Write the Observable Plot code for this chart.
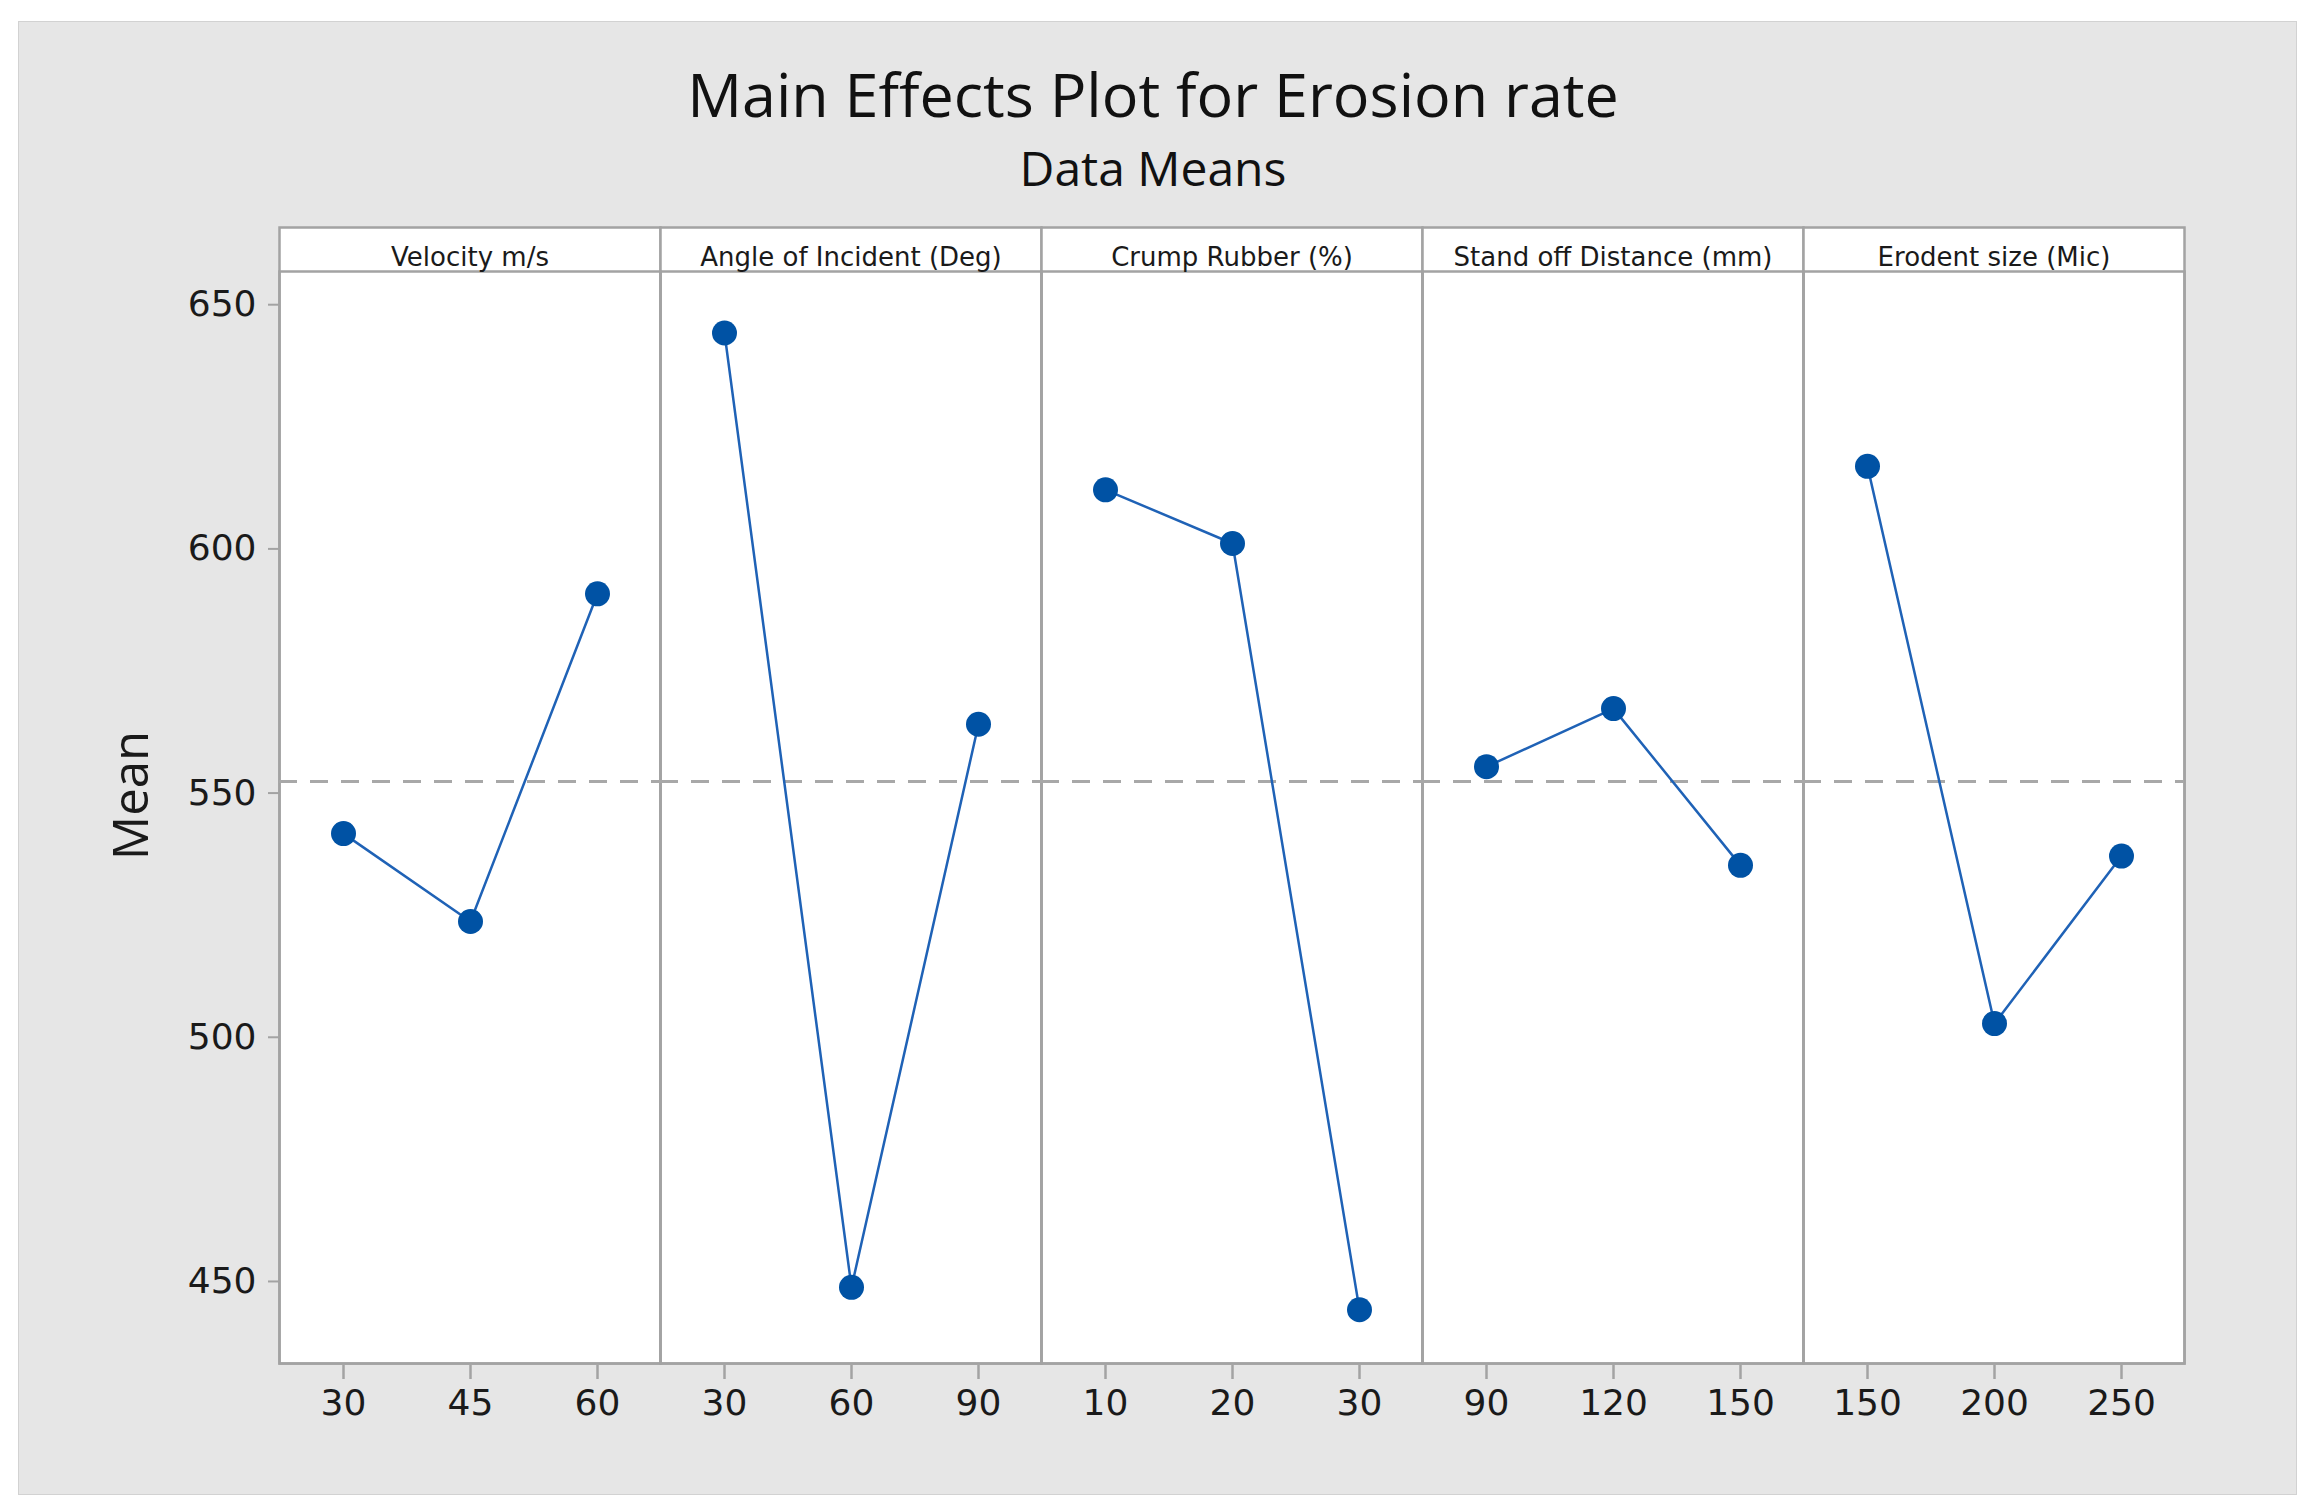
<!DOCTYPE html>
<html>
<head>
<meta charset="utf-8">
<script src="https://cdn.jsdelivr.net/npm/d3@7"></script>
<script src="https://cdn.jsdelivr.net/npm/@observablehq/plot@0.6"></script>
<style>
  html, body { margin: 0; padding: 0; background: #ffffff; width: 2312px; height: 1512px; overflow: hidden; }
  #bg { position: absolute; left: 18px; top: 21px; width: 2277px; height: 1472px; background: #e6e6e6; border: 1px solid #d2d2d2; }
  .title { position: absolute; left: 0; width: 2306px; text-align: center; font-family: "Open Sans", sans-serif; color: #111; line-height: 1; white-space: nowrap; }
  #t1 { top: 63px; font-size: 61px; }
  #t2 { top: 144px; font-size: 48px; }
  #chart { position: absolute; left: 0; top: 200px; }
</style>
</head>
<body>
<div id="bg"></div>
<div class="title" id="t1">Main Effects Plot for Erosion rate</div>
<div class="title" id="t2">Data Means</div>
<div id="chart"></div>
<script>
const factors = ["Velocity m/s", "Angle of Incident (Deg)", "Crump Rubber (%)", "Stand off Distance (mm)", "Erodent size (Mic)"];
const levels = [
  ["30", "45", "60"],
  ["30", "60", "90"],
  ["10", "20", "30"],
  ["90", "120", "150"],
  ["150", "200", "250"]
];
const means = [
  [541.7, 523.7, 590.8],
  [644.2, 448.8, 564.1],
  [612.1, 601.1, 444.2],
  [555.4, 567.3, 535.2],
  [616.9, 502.8, 537.1]
];
const yTicks = [450, 500, 550, 600, 650];

const data = [];
factors.forEach((f, i) => levels[i].forEach((lv, j) => data.push({factor: f, idx: j, level: lv, value: means[i][j]})));
const grandMean = d3.mean(data, d => d.value);

const W = 2312, H = 1300;
const mTop = 71, mBottom = 137, mLeft = 277, mRight = 127;
const frameH = H - mTop - mBottom;
const gray = "#a3a3a3";

const chart = Plot.plot({
  width: W,
  height: H,
  marginTop: mTop,
  marginBottom: mBottom,
  marginLeft: mLeft,
  marginRight: mRight,
  style: {background: "transparent", color: "#1a1a1a"},
  fx: {domain: factors, padding: 0, axis: null},
  x: {type: "point", domain: [0, 1, 2], padding: 0.5, axis: null},
  y: {domain: [433.2, 656.8], axis: null},
  marks: [
    Plot.frame({fill: "white", stroke: gray, strokeWidth: 2.5, insetTop: -44}),
    Plot.frame({stroke: gray, strokeWidth: 2.5}),
    Plot.text(factors, {fx: d => d, text: d => d, frameAnchor: "top", dy: -24, fontSize: 26, fontFamily: "DejaVu Sans", fill: "#1a1a1a"}),
    Plot.ruleY([grandMean], {stroke: "#a8a8a8", strokeWidth: 3, strokeDasharray: "18,13"}),
    Plot.line(data, {fx: "factor", x: "idx", y: "value", stroke: "#1f62b6", strokeWidth: 2.5}),
    Plot.dot(data, {fx: "factor", x: "idx", y: "value", r: 12.5, fill: "#0052a4", stroke: "none"}),
    Plot.axisY({ticks: yTicks, tickSize: 11, tickPadding: 12, fontSize: 36, fontFamily: "DejaVu Sans", stroke: gray, strokeWidth: 2, label: null}),
    Plot.ruleX(data, {fx: "factor", x: "idx", insetTop: frameH + 2, insetBottom: -16, stroke: gray, strokeWidth: 2.5}),
    Plot.text(data, {fx: "factor", x: "idx", text: "level", frameAnchor: "bottom", dy: 51, fontSize: 36, fontFamily: "DejaVu Sans", fill: "#1a1a1a"}),
    Plot.text(["Mean"], {fx: () => factors[0], text: d => d, frameAnchor: "left", textAnchor: "middle", rotate: -90, dx: -147, dy: -22, fontSize: 49, fontFamily: "Open Sans", fill: "#1a1a1a"})
  ]
});
document.getElementById("chart").appendChild(chart);
</script>
</body>
</html>
